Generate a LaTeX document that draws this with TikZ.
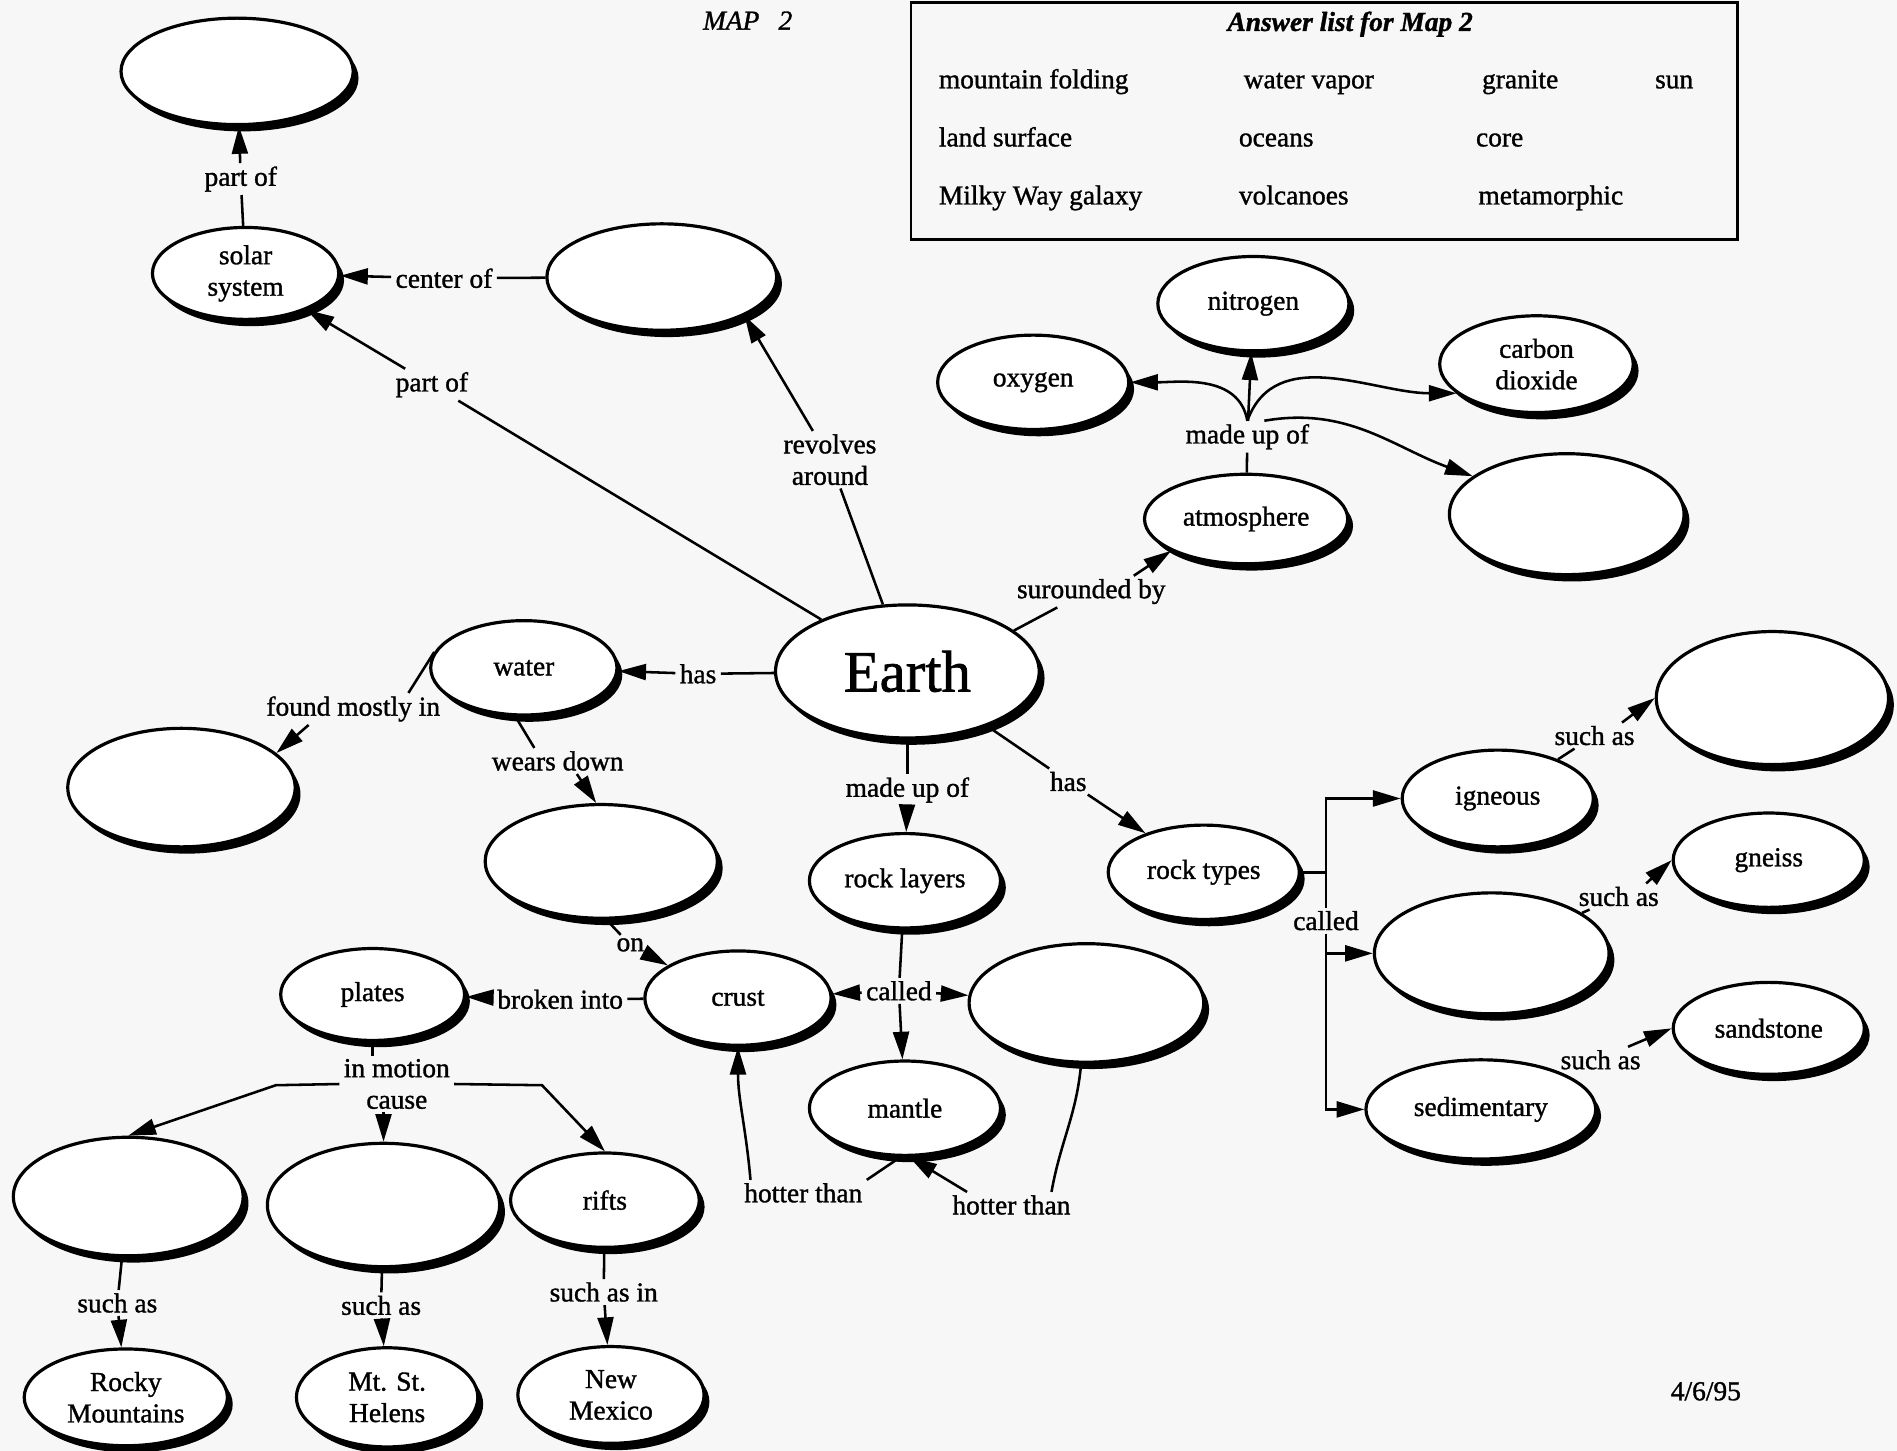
\documentclass[tikz,border=0pt]{standalone}
\usepackage{fontspec}
\setmainfont{Liberation Serif}[FakeBold=1.2]
\usetikzlibrary{shapes.geometric, arrows.meta, shadows}

\newcommand{\mapfont}{\fontsize{12.9}{14.8}\selectfont}
\newcommand{\earthfont}{\fontsize{27.6}{30}\selectfont}

\begin{document}
\begin{tikzpicture}[x=0.02cm,y=-0.02cm,line width=1.2pt,>={Triangle[length=13pt,width=7.5pt]},
  bub/.style 2 args={ellipse,draw,fill=white,line width=1.5pt,inner sep=0pt,
    minimum width=#1*0.4mm,minimum height=#2*0.4mm,font=\mapfont,align=center,
    drop shadow={shadow xshift=2.5pt,shadow yshift=-3.2pt,opacity=1,fill=black}},
  lbl/.style={inner xsep=1.5pt,inner ysep=1pt,font=\mapfont,align=center},
  ans/.style={anchor=base west,inner sep=0pt,font=\mapfont}]
\fill [black!3,use as bounding box] (0,0) rectangle (1568,1199);

% heading and answer list
\node [font=\mapfont\itshape] (map) at (618,17) {MAP\hspace{.7em}2};
\draw [line width=1.2pt] (753,2) rectangle (1436,198);
\node [font=\mapfont\bfseries\itshape] (ttl) at (1116,20) {Answer list for Map 2};
\foreach \x/\y/\t [count=\i] in {775/73/mountain folding, 1027/73/water vapor, 1224/73/granite, 1367/73/sun,
    775/121/land surface, 1023/121/oceans, 1219/121/core,
    775/169/Milky Way galaxy, 1023/169/volcanoes, 1221/169/metamorphic}
  \node [ans] (A\i) at (\x,\y) {\t};
\node [font=\mapfont] (date) at (1410,1150) {4/6/95};

% bubbles
\node [bub={96}{44}] (Gal) at (196,59) {};
\node [bub={77}{38}] (Sol) at (203,226) {solar\\system};
\node [bub={95}{44}] (Sun) at (547,229) {};
\node [bub={109}{55},font=\earthfont] (Earth) at (750,555) {Earth};
\node [bub={77}{39}] (Wat) at (433,552) {water};
\node [bub={94}{49}] (Oce) at (150,651) {};
\node [bub={96}{47}] (Land) at (497,712) {};
\node [bub={84}{37}] (Atm) at (1030,429) {atmosphere};
\node [bub={79}{39}] (Nit) at (1036,251) {nitrogen};
\node [bub={79}{39}] (Oxy) at (854,316) {oxygen};
\node [bub={80}{40}] (Car) at (1270,301) {carbon\\dioxide};
\node [bub={97}{50}] (Vap) at (1295,425) {};
\node [bub={79}{39}] (RL) at (748,728) {rock layers};
\node [bub={79}{39}] (RT) at (995,721) {rock types};
\node [bub={79}{40}] (Ign) at (1238,660) {igneous};
\node [bub={96}{55}] (Gra) at (1465,577) {};
\node [bub={97}{50}] (Met) at (1233,788) {};
\node [bub={79}{39}] (Gne) at (1462,711) {gneiss};
\node [bub={95}{41}] (Sed) at (1224,917) {sedimentary};
\node [bub={79}{38}] (San) at (1462,850) {sandstone};
\node [bub={77}{39}] (Cru) at (610,825) {crust};
\node [bub={97}{49}] (Cor) at (898,829) {};
\node [bub={79}{39}] (Man) at (748,916) {mantle};
\node [bub={76}{38}] (Pla) at (308,822) {plates};
\node [bub={95}{49}] (Fol) at (106,989) {};
\node [bub={96}{51}] (Vol) at (317,996) {};
\node [bub={78}{39}] (Rif) at (500,992) {rifts};
\node [bub={84}{40}] (Roc) at (104,1155) {Rocky\\Mountains};
\node [bub={75}{41}] (Hel) at (320,1155) {Mt. St.\\Helens};
\node [bub={77}{40}] (NM) at (505,1153) {New\\Mexico};

% link words
\node [lbl] (po1) at (199,148) {part of};
\node [lbl] (cof) at (367,230) {center of};
\node [lbl] (po2) at (357,318) {part of};
\node [lbl] (rev) at (686,380) {revolves\\around};
\node [lbl] (has1) at (577,557) {has};
\node [lbl] (fmi) at (292,586) {found mostly in};
\node [lbl] (wd) at (461,629) {wears down};
\node [lbl] (on) at (521,781) {on};
\node [lbl] (srb) at (902,489) {surounded by};
\node [lbl] (mup2) at (1031,361) {made up of};
\node [lbl] (mup1) at (750,653) {made up of};
\node [lbl] (has2) at (883,646) {has};
\node [lbl] (cal1) at (743,819) {called};
\node [lbl] (cal2) at (1096,761) {called};
\node [lbl] (sa1) at (1318,608) {such as};
\node [lbl] (sa2) at (1338,741) {such as};
\node [lbl] (sa3) at (1323,876) {such as};
\node [lbl] (bi) at (463,826) {broken into};
\node [lbl] (imc) at (328,896) {in motion\\cause};
\node [lbl] (sa4) at (97,1077) {such as};
\node [lbl] (sa5) at (315,1079) {such as};
\node [lbl] (sai) at (499,1068) {such as in};
\node [lbl] (ht1) at (664,986) {hotter than};
\node [lbl] (ht2) at (836,996) {hotter than};

% links
\draw (Sol) -- (po1); \draw [->] (po1) -- (Gal);
\draw (Sun) -- (cof); \draw [->] (cof) -- (Sol);
\draw (Earth) -- (po2); \draw [->] (po2) -- (Sol);
\draw (Earth) -- (rev); \draw [->] (rev) -- (Sun.-25);
\draw (Earth) -- (has1); \draw [->] (has1) -- (Wat);
\draw (Wat.170) -- ([xshift=-17pt]fmi.north east); \draw [->] ([xshift=-21pt]fmi.south) -- (Oce.20);
\draw (Wat.-100) -- ([xshift=-11pt]wd.north); \draw [->] ([xshift=9pt]wd.south) -- (Land.95);
\draw (Land.-85) -- (on); \draw [->] (on) -- (Cru.155);
\draw (Earth.21) -- ([xshift=-16pt]srb.south); \draw [->] ([xshift=20pt]srb.north) -- (Atm.203);
\draw (Atm) -- (mup2);
\draw [->] (mup2.north) to [out=100,in=0] (Oxy.east);
\draw [->] (mup2) -- (Nit);
\draw [->] (mup2.north) to [out=70,in=180] (Car.200);
\draw [->] ([xshift=8pt]mup2.north) to [out=10,in=160] (Vap.158);
\draw (Earth) -- (mup1); \draw [->] (mup1) -- (RL);
\draw (Earth) -- (has2); \draw [->] (has2) -- (RT);
\draw (RL) -- (cal1);
\draw [->] (cal1) -- (Cru); \draw [->] (cal1) -- (Man); \draw [->] (cal1) -- (Cor);
\draw (RT.east) -- (RT.east -| cal2);
\draw [->] (cal2.north) |- (Ign);
\draw [->] (cal2.south) |- (Met);
\draw [->] (cal2.south) |- (Sed);
\draw (Ign) -- (sa1); \draw [->] ([xshift=-8pt]sa1.north east) -- (Gra.west);
\draw (Met) -- (sa2); \draw [->] ([xshift=-8pt]sa2.north east) -- (Gne.west);
\draw [->] ([xshift=-8pt]sa3.north east) -- (San.west);
\draw (Cru) -- (bi); \draw [->] (bi) -- (Pla);
\draw (Pla) -- (Pla |- imc.north);
\coordinate (kl) at (228,897);
\coordinate (kr) at (448,897);
\draw [->] (imc.west) -- (kl) -- (Fol.north);
\draw [->] (imc.south -| Vol) -- (Vol);
\draw [->] (imc.east) -- (kr) -- (Rif.north);
\draw (Fol) -- (sa4); \draw [->] (sa4) -- (Roc);
\draw (Vol) -- (sa5); \draw [->] (sa5) -- (Hel);
\draw (Rif) -- (sai); \draw [->] (sai) -- (NM);
\draw (Man.-95) -- (ht1.north east);
\draw [->] ([xshift=5pt]ht1.north west) to [out=95,in=-90] (Cru.south);
\draw (Cor.-95) to [out=-95,in=80] ([xshift=-11pt]ht2.north east);
\draw [->] ([xshift=9pt]ht2.north west) -- (Man.-85);
\end{tikzpicture}
\end{document}
